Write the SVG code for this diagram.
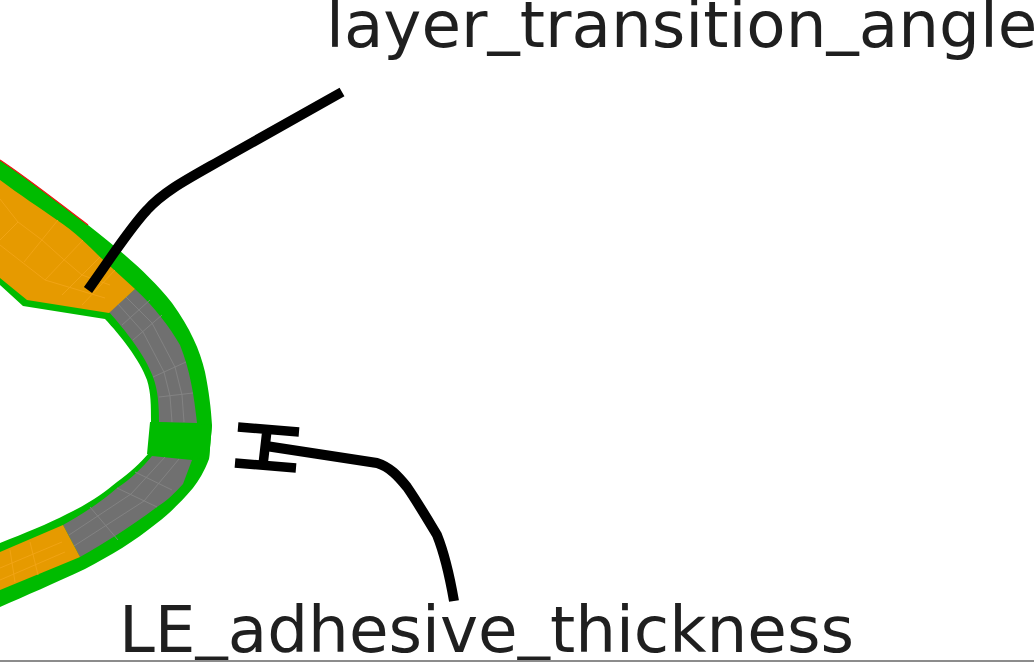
<svg xmlns="http://www.w3.org/2000/svg" width="1034" height="662" viewBox="0 0 1034 662">
<style>
.g{fill:#00bb00}.o{fill:#e69a00}.y{fill:#707070}
.mo{fill:none;stroke:#f2a516;stroke-width:.9}
.my{fill:none;stroke:#858585;stroke-width:.9}
.l{fill:none;stroke:#000;stroke-linejoin:round}
text{font-family:"DejaVu Sans",sans-serif;fill:#1f1f1f;font-size:64.4px}
</style>
<rect width="1034" height="662" fill="#fff"/>
<g id="blade-section">
<path d="M0,160 C30,180 60,204 88,225 C120,250 150,275 172,303 C190,328 200,350 205,372 C209,392 211,408 212,425 L209,459 C204,472 199,480 193,488 C180,503 170,513 157,523 C135,541 110,556 85,569 C55,583 25,596 0,607 L0,543 C25,533 48,524 67,514 C90,503 105,492 117,482 C130,473 140,463 148,454 L151,422 C151,405 151,393 147,380 C140,360 120,335 105,319 L23,306 L0,285 Z" class="g"/>
<path d="M0,160 C30,180 60,204 88,225" fill="none" stroke="#f01010" stroke-width="1.2"/>
<path d="M135,289 C155,307 170,328 180,345 C190,370 194,395 197,423 L159,422 C159,405 158,390 153,377 C145,355 125,330 109,312 Z" class="y"/>
<path d="M152,456 L192,460 L183,484 C172,496 165,502 157,507 C130,527 105,543 80,557 L63,525 C85,513 103,500 117,488 C130,480 142,468 152,456 Z" class="y"/>
<path d="M0,180 C20,195 40,208 57,220 C75,232 90,247 100,257 L135,289 L109,313 L27,300 L0,278 Z" class="o"/>
<path d="M0,552 L63,525 L80,557 L68,562 L0,590 Z" class="o"/>
<path d="M150,422 L212,425 L209,459 L147,454 Z" class="g"/>
<path class="mo" d="M0,199 L18,222 L42,240 L62,258 L82,275 L110,285 M0,245 L45,280 L105,298 M18,222 L0,240 M58,220 L24,262 M83,240 L45,280 M100,257 L62,295 M115,270 L82,305"/>
<path class="mo" d="M0,568 L62,542 M0,580 L65,552 M30,542 L38,575 M10,550 L15,582"/>
<path class="my" d="M118,304 L143,332 L164,372 L170,396 L172,422 M126,297 L152,323 L175,367 L182,395 L184,422 M122,325 L150,300 M133,340 L162,315 M153,377 L186,362 M159,397 L193,393"/>
<path class="my" d="M165,457 L131,494 L69,535 M179,459 L144,501 L74,546 M117,488 L157,507 M90,507 L118,540 M135,472 L172,490"/>
</g>
<g id="connectors">
<path class="l" d="M342,92 L230,155 C190,178 165,190 147,210 C130,228 115,252 88,290" style="stroke-width:10"/>
<path class="l" d="M238,427 L299,432 M267,430 L263,465 M235,463 L296,468" style="stroke-width:9.5"/>
<path class="l" d="M266,446 L377,463 C390,467 398,476 407,487 C418,503 428,520 437,535 C445,555 450,578 454,601" style="stroke-width:10"/>
</g>
<g id="label-layer-transition-angle"><text x="326" y="47">layer<tspan dy="-6">_</tspan><tspan dy="6">transition</tspan><tspan dy="-6">_</tspan><tspan dy="6">angle</tspan></text></g>
<g id="label-le-adhesive-thickness"><text x="119" y="652">LE<tspan dy="-6">_</tspan><tspan dy="6">adhesive</tspan><tspan dy="-6">_</tspan><tspan dy="6">thickness</tspan></text></g>
<rect x="0" y="660" width="1034" height="2" fill="#8c8c8c"/>
</svg>
